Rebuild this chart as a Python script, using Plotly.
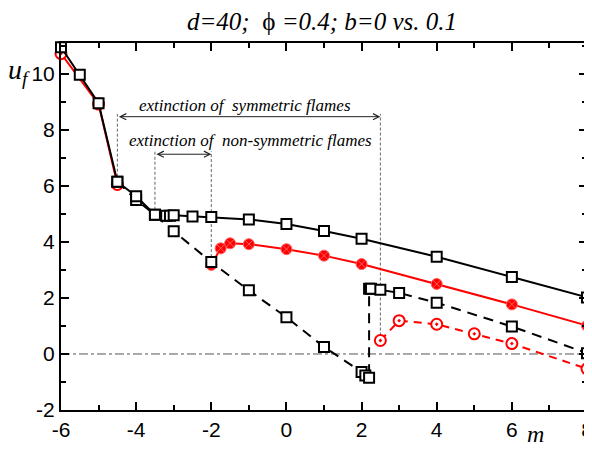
import plotly.graph_objects as go

# ---- data ----
black_solid_x = [-6, -5.5, -5, -4.5, -4, -3.5, -3.2, -3.1, -3, -2.5, -2, -1, 0, 1, 2, 4, 6, 8]
black_solid_y = [10.95, 9.97, 8.95, 6.15, 5.63, 4.97, 4.93, 4.93, 4.95, 4.91, 4.89, 4.80, 4.64, 4.39, 4.11, 3.47, 2.75, 2.02]

black_dash_x = [-4.5, -4, -3.5, -3, -2, -1, 0, 1, 2, 2.1, 2.2, 2.2, 2.25, 2.5, 3, 4, 6, 8]
black_dash_y = [6.15, 5.5, 4.97, 4.38, 3.28, 2.27, 1.31, 0.25, -0.64, -0.77, -0.85, 2.33, 2.33, 2.29, 2.18, 1.83, 0.98, 0.03]

red_solid1_x = [-6, -5, -4.5]
red_solid1_y = [10.72, 8.92, 6.05]
red_solid2_x = [-2, -1.75, -1.5, -1, 0, 1, 2, 4, 6, 8]
red_solid2_y = [3.18, 3.77, 3.95, 3.92, 3.74, 3.51, 3.21, 2.5, 1.77, 1.01]

red_dash_x = [2.5, 3, 4, 5, 6, 8]
red_dash_y = [0.48, 1.19, 1.06, 0.72, 0.37, -0.53]

sym_range = [-4.5, 2.5]      # extinction of symmetric flames
nonsym_range = [-3.5, -2.0]  # extinction of non-symmetric flames
sym_arrow_y = 8.47
nonsym_arrow_y = 7.13

x_ticks = [-6, -4, -2, 0, 2, 4, 6, 8]
x_tick_labels = ["-6", "-4", "-2", "0", "2", "4", "6", "8"]
y_ticks = [-2, 0, 2, 4, 6, 8, 10]
y_tick_labels = ["-2", "0", "2", "4", "6", "8", "10"]

SERIF = "Liberation Serif"
SANS = "Liberation Sans"
NB = "\u00a0"

# page body has an 8px margin: figure is 8px smaller so it fits the window
W, H = 584, 442
ML, MR, MT, MB = 53, 5, 35, 40
PW, PH = W - ML - MR, H - MT - MB


def px_to_paper(px, py):
    # px, py are screenshot pixels (including the 8px body offset)
    return ((px - 8 - ML) / PW, 1 - (py - 8 - MT) / PH)


fig = go.Figure()

red_fill_marker = dict(symbol="circle-x", size=11, color="#ff0000",
                       line=dict(color="#ff6060", width=1))
red_open_marker = dict(symbol="circle-dot", size=11, color="white",
                       line=dict(color="#ff0000", width=2))
sq_marker = dict(symbol="square", size=10, color="white",
                 line=dict(color="black", width=2))

fig.add_trace(go.Scatter(x=red_solid1_x, y=red_solid1_y, mode="lines+markers", cliponaxis=False,
                         line=dict(color="red", width=2), marker=red_open_marker))
fig.add_trace(go.Scatter(x=red_solid2_x, y=red_solid2_y, mode="lines+markers", cliponaxis=False,
                         line=dict(color="red", width=2), marker=red_fill_marker))
fig.add_trace(go.Scatter(x=red_dash_x, y=red_dash_y, mode="lines+markers", cliponaxis=False,
                         line=dict(color="red", width=2, dash="8px,6px"), marker=red_open_marker))
fig.add_trace(go.Scatter(x=black_dash_x, y=black_dash_y, mode="lines+markers", cliponaxis=False,
                         line=dict(color="black", width=2, dash="10px,7px"), marker=sq_marker))
fig.add_trace(go.Scatter(x=black_solid_x, y=black_solid_y, mode="lines+markers", cliponaxis=False,
                         line=dict(color="black", width=2), marker=sq_marker))

shapes = []
shapes.append(dict(type="line", xref="x", yref="y", x0=-6, x1=8, y0=0, y1=0,
                   line=dict(color="#555", width=1, dash="dashdot"), layer="below"))
gray = dict(color="#666", width=1, dash="3px,2px")
shapes.append(dict(type="line", xref="x", yref="y", x0=sym_range[0], x1=sym_range[0],
                   y0=6.15, y1=sym_arrow_y + 0.1, line=gray, layer="below"))
shapes.append(dict(type="line", xref="x", yref="y", x0=sym_range[1], x1=sym_range[1],
                   y0=0.48, y1=sym_arrow_y + 0.1, line=gray, layer="below"))
shapes.append(dict(type="line", xref="x", yref="y", x0=nonsym_range[0], x1=nonsym_range[0],
                   y0=4.97, y1=nonsym_arrow_y + 0.1, line=gray, layer="below"))
shapes.append(dict(type="line", xref="x", yref="y", x0=nonsym_range[1], x1=nonsym_range[1],
                   y0=3.28, y1=nonsym_arrow_y + 0.1, line=gray, layer="below"))

annotations = []
for rng, yy in [(sym_range, sym_arrow_y), (nonsym_range, nonsym_arrow_y)]:
    annotations.append(dict(x=rng[1], y=yy, ax=rng[0], ay=yy, xref="x", yref="y",
                            axref="x", ayref="y", text="", showarrow=True,
                            arrowhead=5, startarrowhead=5, arrowside="end+start",
                            arrowsize=1.2, startarrowsize=1.2, arrowwidth=1, arrowcolor="#222"))
annotations.append(dict(x=-1.09, y=8.87, xref="x", yref="y", yanchor="middle",
                        text=f"<i>extinction of{NB}{NB}symmetric flames</i>", showarrow=False,
                        font=dict(family=SERIF, size=17, color="black")))
annotations.append(dict(x=-0.96, y=7.62, xref="x", yref="y", yanchor="middle",
                        text=f"<i>extinction of{NB}{NB}non-symmetric flames</i>", showarrow=False,
                        font=dict(family=SERIF, size=17, color="black")))

tx, ty = px_to_paper(322, 21)
annotations.append(dict(x=tx, y=ty, xref="paper", yref="paper", showarrow=False,
                        xanchor="center", yanchor="middle",
                        text=f"<i>d=40;{NB}{NB}</i>ϕ{NB}<i>=0.4; b=0 vs. 0.1</i>",
                        font=dict(family=SERIF, size=25, color="black")))
ux, uy = px_to_paper(19, 72)
annotations.append(dict(x=ux, y=uy, xref="paper", yref="paper", showarrow=False,
                        xanchor="center", yanchor="middle",
                        text="<i>u<sub>f</sub></i>", font=dict(family=SERIF, size=28, color="black")))
mx, my = px_to_paper(535, 434)
annotations.append(dict(x=mx, y=my, xref="paper", yref="paper", showarrow=False,
                        xanchor="center", yanchor="middle",
                        text="<i>m</i>", font=dict(family=SERIF, size=24, color="black")))

axis_common = dict(showgrid=False, zeroline=False, showline=True, linecolor="black",
                   linewidth=2, mirror="allticks", ticks="inside", ticklen=8,
                   tickwidth=1.5, tickcolor="black",
                   tickfont=dict(family=SANS, size=21, color="black"),
                   minor=dict(ticks="inside", ticklen=5, tickwidth=1.5, tickcolor="black", dtick=1))

fig.update_layout(
    width=W, height=H,
    margin=dict(l=ML, r=MR, t=MT, b=MB),
    paper_bgcolor="white", plot_bgcolor="white",
    showlegend=False,
    shapes=shapes, annotations=annotations,
    xaxis=dict(range=[-6, 8], tickvals=x_ticks, ticktext=x_tick_labels, automargin=False,
               ticklabeloverflow="allow", **axis_common),
    yaxis=dict(range=[-2, 11.1], tickvals=y_ticks, ticktext=y_tick_labels, automargin=False,
               ticklabeloverflow="allow", **axis_common),
)

fig.write_html("out.html")
